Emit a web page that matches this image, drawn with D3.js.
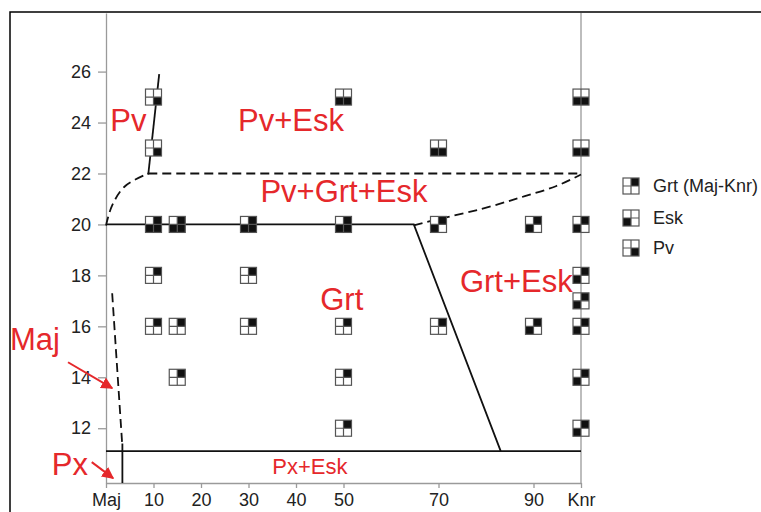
<!DOCTYPE html>
<html>
<head>
<meta charset="utf-8">
<script src="https://cdn.jsdelivr.net/npm/d3@7"></script>
<style>
  body { margin: 0; background: #fff; }
  svg text { font-family: "Liberation Sans", Arial, sans-serif; }
</style>
</head>
<body>
<div class="chart"></div>
<script>
/* composition axis (Maj = 0, Knr = 100) and pressure axis */
const compTicks = [0, 10, 20, 30, 40, 50, 60, 70, 80, 90, 100];
const compLabels = ['Maj', '10', '20', '30', '40', '50', '', '70', '', '90', 'Knr'];
const pressureTicks = [12, 14, 16, 18, 20, 22, 24, 26];

/* experiments: [composition, pressure] grouped by phase assemblage */
const pvOnly = [[10, 25], [10, 23]];
const pvEsk = [[50, 25], [100, 25], [70, 23], [100, 23]];
const pvGrtEsk = [[10, 20], [15, 20], [30, 20], [50, 20]];
const grtEsk = [[70, 20], [90, 20], [100, 20], [100, 18], [100, 17], [90, 16], [100, 16], [100, 14], [100, 12]];
const grtOnly = [[10, 18], [30, 18], [10, 16], [15, 16], [30, 16], [50, 16], [70, 16], [15, 14], [50, 14], [50, 12]];

/* phase boundaries */
const solidP20 = [[0, 20], [64.8, 20], [83.1, 11.1]];
const solidPv = [[8.9, 21.96], [11.2, 25.9]];
const solidPx = [[0, 11.1], [100, 11.1]];
const solidPxV = [[3.45, 11.4], [3.45, 9.85]];
const dashP22 = [[8.9, 22], [100, 22]];
const dashLeft = [[0, 19.96], [1.3, 20.75], [4.0, 21.5], [8.9, 22]];
const dashRight = [[64.8, 19.96], [69.8, 20.2], [78.9, 20.6], [87.3, 21.06], [94.7, 21.5], [100, 21.96]];
const dashMaj = [[1.3, 17.3], [3.4, 11.4]];

/* field labels: text, composition, pressure (baseline), size */
const fieldLabels = [
    ['Pv', 0.9, 23.65, 31],
    ['Pv+Esk', 27.8, 23.65, 31],
    ['Pv+Grt+Esk', 32.5, 20.9, 31],
    ['Grt', 45.1, 16.63, 31],
    ['Grt+Esk', 74.5, 17.33, 31],
    ['Maj', -20.2, 15.06, 31],
    ['Px', -11.4, 10.16, 31],
    ['Px+Esk', 35.0, 10.2, 22]
];
const arrows = [
    [[-8.0, 14.59], [1.3, 13.57]],
    [[-3.0, 10.67], [1.5, 10.04]]
];

const legendItems = ['Grt (Maj-Knr)', 'Esk', 'Pv'];

const width = 761, height = 512;

const x = d3.scaleLinear().domain([0, 100]).range([106, 581]);
const y = d3.scaleLinear().domain([9.85, 28.3]).range([483, 13]);

const svg = d3.select('.chart').append('svg')
    .attr('width', width)
    .attr('height', height);

/* outer frame */
svg.append('rect')
    .attr('x', 10).attr('y', 12)
    .attr('width', 800).attr('height', 600)
    .attr('fill', 'none')
    .attr('stroke', '#000')
    .attr('stroke-width', 1.5);

/* axes */
const xAxis = d3.axisBottom(x)
    .tickValues(compTicks)
    .tickFormat((d, i) => compLabels[i])
    .tickSize(5).tickPadding(5).tickSizeOuter(0);
const yAxis = d3.axisLeft(y)
    .tickValues(pressureTicks)
    .tickSize(8).tickPadding(7).tickSizeOuter(0);

const gx = svg.append('g')
    .attr('transform', `translate(0,${y(9.85)})`)
    .call(xAxis);
const gy = svg.append('g')
    .attr('transform', `translate(${x(0)},0)`)
    .call(yAxis);

[gx, gy].forEach(g => {
    g.selectAll('path, line').attr('stroke', '#9a9a9a').attr('stroke-width', 1.3);
    g.selectAll('text').attr('fill', '#222').style('font-size', '18px');
});
gx.selectAll('.tick').filter(d => d === 60 || d === 80).select('line').remove();

/* Knr side */
svg.append('line')
    .attr('x1', x(100)).attr('x2', x(100))
    .attr('y1', y(28.3)).attr('y2', y(9.85))
    .attr('stroke', '#9a9a9a').attr('stroke-width', 1.3);

/* boundaries */
const line = d3.line().x(d => x(d[0])).y(d => y(d[1]));
const curve = d3.line().x(d => x(d[0])).y(d => y(d[1])).curve(d3.curveCatmullRom);

const bounds = svg.append('g').attr('fill', 'none').attr('stroke', '#111').attr('stroke-width', 1.8);
[solidP20, solidPv, solidPx, solidPxV].forEach(d => {
    bounds.append('path').attr('d', line(d));
});
[dashP22, dashMaj].forEach(d => {
    bounds.append('path').attr('d', line(d)).attr('stroke-dasharray', '9,5');
});
[dashLeft, dashRight].forEach(d => {
    bounds.append('path').attr('d', curve(d)).attr('stroke-dasharray', '9,5');
});

/* symbol: square split in four, Grt = top right, Esk = bottom left, Pv = bottom right */
const s = 16;
function drawSymbol(g, phases) {
    const h = s / 2;
    const quads = { grt: [0, -h], esk: [-h, 0], pv: [0, 0] };
    g.append('rect')
        .attr('x', -h).attr('y', -h).attr('width', s).attr('height', s)
        .attr('fill', '#fff');
    phases.forEach(p => {
        g.append('rect')
            .attr('x', quads[p][0]).attr('y', quads[p][1])
            .attr('width', h).attr('height', h)
            .attr('fill', '#111');
    });
    g.append('rect')
        .attr('x', -h).attr('y', -h).attr('width', s).attr('height', s)
        .attr('fill', 'none').attr('stroke', '#555').attr('stroke-width', 1.2);
    g.append('path')
        .attr('d', `M0,${-h}V${h}M${-h},0H${h}`)
        .attr('stroke', '#555').attr('stroke-width', 1.2);
}

const groups = [
    [pvOnly, ['pv']],
    [pvEsk, ['esk', 'pv']],
    [pvGrtEsk, ['grt', 'esk', 'pv']],
    [grtEsk, ['grt', 'esk']],
    [grtOnly, ['grt']]
];
const pts = svg.append('g');
groups.forEach(([data, phases]) => {
    pts.selectAll(null)
        .data(data).enter()
        .append('g')
        .attr('transform', d => `translate(${x(d[0])},${y(d[1])})`)
        .each(function () { drawSymbol(d3.select(this), phases); });
});

/* red labels and arrows */
const red = '#e5282b';
svg.append('defs').append('marker')
    .attr('id', 'head')
    .attr('viewBox', '0 0 10 10')
    .attr('refX', 9).attr('refY', 5)
    .attr('markerWidth', 6).attr('markerHeight', 6)
    .attr('orient', 'auto')
    .append('path')
    .attr('d', 'M0,0L10,5L0,10z')
    .attr('fill', red);

svg.append('g').selectAll('line')
    .data(arrows).enter()
    .append('line')
    .attr('x1', d => x(d[0][0])).attr('y1', d => y(d[0][1]))
    .attr('x2', d => x(d[1][0])).attr('y2', d => y(d[1][1]))
    .attr('stroke', red).attr('stroke-width', 2)
    .attr('marker-end', 'url(#head)');

svg.append('g').selectAll('text')
    .data(fieldLabels).enter()
    .append('text')
    .attr('x', d => x(d[1]))
    .attr('y', d => y(d[2]))
    .attr('fill', red)
    .style('font-size', d => d[3] + 'px')
    .text(d => d[0]);

/* legend */
const legend = svg.append('g').attr('transform', 'translate(631,186)');
const legendPhases = [['grt'], ['esk'], ['pv']];
legendItems.forEach((name, i) => {
    const g = legend.append('g').attr('transform', `translate(0,${[0, 32, 62][i]})`);
    drawSymbol(g, legendPhases[i]);
    g.append('text')
        .attr('x', 22).attr('dy', '0.35em')
        .attr('fill', '#222')
        .style('font-size', '18px')
        .text(name);
});
</script>
</body>
</html>
